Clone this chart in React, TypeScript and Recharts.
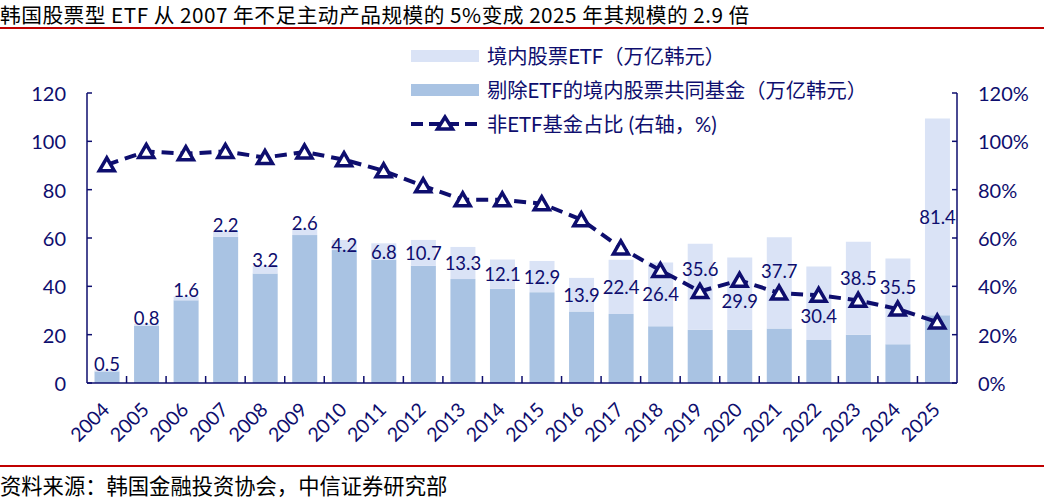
import React from 'react';
import { ComposedChart, Bar, Line, XAxis, YAxis, LabelList } from 'recharts';

// data
const YEARS = ['2004', '2005', '2006', '2007', '2008', '2009', '2010', '2011', '2012', '2013', '2014',
  '2015', '2016', '2017', '2018', '2019', '2020', '2021', '2022', '2023', '2024', '2025'];
// 境内股票ETF（万亿韩元）
const ETF = [0.5, 0.8, 1.6, 2.2, 3.2, 2.6, 4.2, 6.8, 10.7, 13.3, 12.1, 12.9, 13.9, 22.4, 26.4, 35.6,
  29.9, 37.7, 30.4, 38.5, 35.5, 81.4];
// 剔除ETF的境内股票共同基金（万亿韩元）
const FUND = [4.8, 23.7, 34.2, 60.5, 45.3, 61.2, 55.0, 51.0, 48.5, 43.0, 39.0, 37.6, 29.6, 28.6, 23.5,
  22.0, 22.0, 22.6, 17.8, 20.0, 16.0, 28.0];
// 非ETF基金占比 (%)
const RATIO = [90.3, 95.8, 94.9, 95.8, 93.3, 95.6, 92.4, 87.8, 81.6, 75.8, 75.8, 74.2, 67.6, 55.9, 46.6,
  37.9, 42.5, 37.2, 36.3, 34.2, 30.6, 25.2];
const LEFT_TICKS = [0, 20, 40, 60, 80, 100, 120];

const data = YEARS.map((y, i) => ({ year: y, fund: FUND[i], etf: ETF[i], ratio: RATIO[i] }));

const NAVY = '#0e0e6e';
const LIGHT = '#dae3f6';
const DARK = '#a9c3e3';
const RED = '#c00000';
const NUM_FONT = 'Lato, "Noto Sans CJK SC", sans-serif';
const CJK_FONT = '"Noto Sans CJK SC", sans-serif';

const W = 1044;
const H = 500;
const AXIS_W = 87;
const PLOT_TOP = 93;
const PLOT_BOTTOM = 383;
const PX = (PLOT_BOTTOM - PLOT_TOP) / 120;
const BAND = (W - 2 * AXIS_W) / YEARS.length;

const LeftTick = (props: any) => {
  const { x, y, payload } = props;
  return (
    <g>
      <line x1={x} x2={x + 5} y1={y} y2={y} stroke={NAVY} strokeWidth={1.5} />
      <text x={x - 21} y={y} textAnchor="end" dominantBaseline="central" fill={NAVY}
        fontSize={20} fontFamily={NUM_FONT}>{payload.value}</text>
    </g>
  );
};

const RightTick = (props: any) => {
  const { x, y, payload } = props;
  return (
    <g>
      <line x1={x} x2={x - 5} y1={y} y2={y} stroke={NAVY} strokeWidth={1.5} />
      <text x={x + 21} y={y} textAnchor="start" dominantBaseline="central" fill={NAVY}
        fontSize={20} fontFamily={NUM_FONT}>{payload.value}%</text>
    </g>
  );
};

const YearTick = (props: any) => {
  const { x, y, payload, index } = props;
  const px = x + 4;
  const py = y + 28;
  return (
    <g>
      {index > 0 && (
        <line x1={x - BAND / 2} x2={x - BAND / 2} y1={y} y2={y - 7} stroke={NAVY} strokeWidth={1.5} />
      )}
      <text x={px} y={py} textAnchor="end" transform={`rotate(-45 ${px} ${py})`} fill={NAVY}
        fontSize={19.5} fontFamily={NUM_FONT}>{payload.value}</text>
    </g>
  );
};

// label for the ETF segment: centred, pushed above thin segments, moved off the line
const EtfLabel = (props: any) => {
  const { x, y, width, height, index } = props;
  const top = Number(y);
  const h = Math.abs(Number(height));
  const center = top + h / 2;
  let ly = center;
  if (h < 9) {
    ly = top - 6;
  } else {
    const lineY = PLOT_BOTTOM - RATIO[index] * PX;
    if (Math.abs(center - lineY) < 20) ly = center < lineY ? lineY - 22 : lineY + 21;
  }
  return (
    <text x={Number(x) + Number(width) / 2} y={ly} textAnchor="middle" dominantBaseline="central"
      fill={NAVY} fontSize={18.5} fontFamily={NUM_FONT}>{ETF[index]}</text>
  );
};

const TriangleDot = (props: any) => {
  const { cx, cy } = props;
  if (cx == null || cy == null) return null;
  return (
    <polygon points={`${cx},${cy - 7} ${cx - 7.5},${cy + 6} ${cx + 7.5},${cy + 6}`}
      fill="#fff" stroke={NAVY} strokeWidth={3.5} strokeLinejoin="miter" />
  );
};

const legendText: React.CSSProperties = {
  position: 'absolute', left: 487, fontSize: 20.3, lineHeight: '26px', color: NAVY,
  fontFamily: NUM_FONT, whiteSpace: 'nowrap',
};

export default function App() {
  return (
    <div style={{ position: 'absolute', left: 0, top: 0, width: W, height: H, background: '#fff', overflow: 'hidden' }}>
      <div style={{ position: 'absolute', left: 0, top: 2, fontSize: 20.7, lineHeight: '24px', color: '#000',
        fontFamily: CJK_FONT, whiteSpace: 'nowrap', letterSpacing: 0.5 }}>
        韩国股票型 ETF 从 2007 年不足主动产品规模的 5%变成 2025 年其规模的 2.9 倍
      </div>
      <div style={{ position: 'absolute', left: 0, top: 27, width: W, height: 1.5, background: RED }} />

      <div style={{ position: 'absolute', left: 0, top: 0 }}>
        <ComposedChart width={W} height={H} data={data}
          margin={{ top: PLOT_TOP, right: 0, left: 0, bottom: H - PLOT_BOTTOM - 60 }}
          barCategoryGap="19%">
          <XAxis dataKey="year" height={60} tickLine={false} tickSize={0} tickMargin={0}
            axisLine={{ stroke: NAVY, strokeWidth: 1.5 }} tick={<YearTick />} interval={0} />
          <YAxis yAxisId="left" width={AXIS_W} domain={[0, 120]} ticks={LEFT_TICKS} tickLine={false}
            tickSize={0} tickMargin={0} axisLine={{ stroke: NAVY, strokeWidth: 1.5 }} tick={<LeftTick />}
            allowDataOverflow />
          <YAxis yAxisId="right" orientation="right" width={AXIS_W} domain={[0, 120]} ticks={LEFT_TICKS}
            tickLine={false} tickSize={0} tickMargin={0} axisLine={{ stroke: NAVY, strokeWidth: 1.5 }}
            tick={<RightTick />} allowDataOverflow />
          <Bar yAxisId="left" dataKey="fund" stackId="a" fill={DARK} isAnimationActive={false} />
          <Bar yAxisId="left" dataKey="etf" stackId="a" fill={LIGHT} isAnimationActive={false}>
            <LabelList dataKey="etf" content={<EtfLabel />} />
          </Bar>
          <Line yAxisId="right" dataKey="ratio" type="linear" stroke={NAVY} strokeWidth={4}
            strokeDasharray="12 7" dot={<TriangleDot />} activeDot={false} isAnimationActive={false} />
        </ComposedChart>
      </div>

      {/* legend */}
      <svg style={{ position: 'absolute', left: 0, top: 0 }} width={W} height={140}>
        <rect x={411} y={50} width={68} height={12} fill={LIGHT} />
        <rect x={411} y={84} width={68} height={12} fill={DARK} />
        <line x1={411} x2={479} y1={124} y2={124} stroke={NAVY} strokeWidth={4} strokeDasharray="12 6" />
        <polygon points="445,117 437.5,129 452.5,129" fill="#fff" stroke={NAVY} strokeWidth={3.5} />
      </svg>
      <div style={{ ...legendText, top: 43 }}>境内股票ETF（万亿韩元）</div>
      <div style={{ ...legendText, top: 77 }}>剔除ETF的境内股票共同基金（万亿韩元）</div>
      <div style={{ ...legendText, top: 111 }}>非ETF基金占比 (右轴，%)</div>

      <div style={{ position: 'absolute', left: 0, top: 465, width: W, height: 1.5, background: RED }} />
      <div style={{ position: 'absolute', left: 0, top: 472, fontSize: 21.3, lineHeight: '26px', color: '#000',
        fontFamily: CJK_FONT, whiteSpace: 'nowrap' }}>
        资料来源：韩国金融投资协会，中信证券研究部
      </div>
    </div>
  );
}
